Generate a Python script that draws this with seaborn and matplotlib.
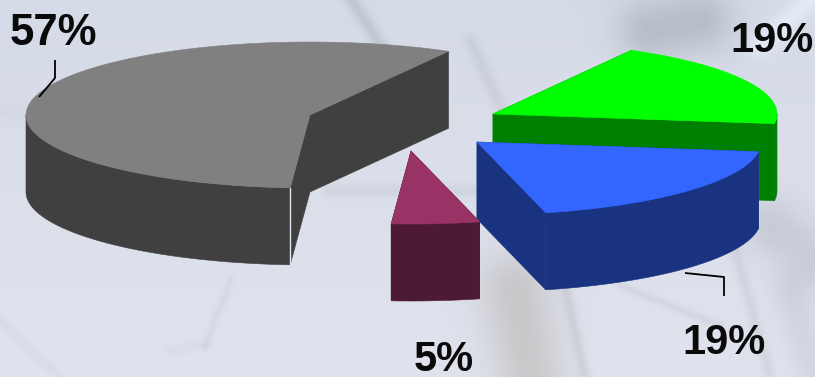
import numpy as np
import matplotlib
matplotlib.use("Agg")
import matplotlib.pyplot as plt
from matplotlib.patches import Polygon
import seaborn as sns

# Shares of the pie, in drawing order round the circle
labels = ["57%", "5%", "19%", "19%"]
shares = [57, 5, 19, 19]
top_colours = ["#808080", "#993366", "#3366FF", "#00FF00"]
side_colours = ["#404040", "#4D1A33", "#1A3380", "#008000"]

START_ANGLE = 60.8
RX, RY, DEPTH = 284.0, 73.0, 77.0
# Exploded apex of every slice on the canvas
apexes = [(310, 115), (411, 151), (477, 142), (493, 114)]
paint_order = [3, 2, 0, 1]

WIDTH, HEIGHT = 815, 377

sns.set_theme(style="white")
plt.rcParams["font.family"] = ["Liberation Sans", "DejaVu Sans"]


def backdrop():
    """Soft out-of-focus photo behind the chart, built from blurred strokes."""
    yy, xx = np.mgrid[0:HEIGHT, 0:WIDTH].astype(float)
    t = yy / HEIGHT
    img = np.dstack([213 + 11 * t, 219 + 8 * t, 231 + 6 * t])

    def stroke(x0, y0, x1, y1, sigma, amount, tint=(1, 1, 1)):
        dx, dy = x1 - x0, y1 - y0
        length2 = max(dx * dx + dy * dy, 1e-6)
        u = np.clip(((xx - x0) * dx + (yy - y0) * dy) / length2, 0, 1)
        dist2 = (xx - x0 - u * dx) ** 2 + (yy - y0 - u * dy) ** 2
        g = np.exp(-dist2 / (2 * sigma ** 2)) * amount
        for c in range(3):
            img[..., c] -= g * tint[c]

    # Upper-left diagonal strut and the blurred dark mass at the top right
    stroke(345, -10, 400, 75, 5, 20)
    stroke(650, 30, 700, 20, 24, 30)
    stroke(470, 40, 560, 240, 5, 12)
    stroke(0, 110, 60, 115, 7, 5)
    # Lighter streak beside the dark mass
    stroke(760, 45, 815, -5, 8, -14)
    # Horizontal band in the middle and the warm grey block near the bottom
    stroke(330, 190, 480, 190, 5, 10)
    stroke(515, 290, 530, 377, 26, 26, (0.8, 1.0, 1.3))
    stroke(565, 290, 585, 377, 4, 14)
    # Faint struts in the lower right
    stroke(620, 285, 720, 325, 3, 10)
    stroke(735, 250, 770, 377, 4, 12)
    stroke(770, 225, 815, 260, 22, 20)
    stroke(790, 290, 815, 377, 14, 12)
    # Faint struts in the lower left
    stroke(230, 280, 205, 345, 3, 8)
    stroke(205, 345, 170, 350, 4, 6)
    stroke(0, 320, 60, 377, 4, 6)
    return np.clip(img, 0, 255).astype(np.uint8)


def rim_points(apex, angles_deg):
    angles = np.radians(angles_deg)
    return apex[0] + RX * np.cos(angles), apex[1] - RY * np.sin(angles)


def front_span(a0, a1):
    """Part of an arc that faces the viewer, or None when it has none."""
    for turn in (0, 360):
        low, high = max(a0, 180 + turn), min(a1, 360 + turn)
        if low < high:
            return low, high
    return None


fig = plt.figure(figsize=(WIDTH / 100, HEIGHT / 100), dpi=100)
ax = fig.add_axes([0, 0, 1, 1])
ax.imshow(backdrop(), extent=(0, WIDTH, HEIGHT, 0), aspect="auto", zorder=0)
ax.set_xlim(0, WIDTH)
ax.set_ylim(HEIGHT, 0)
ax.axis("off")

bounds = START_ANGLE + np.r_[0, np.cumsum(shares)] * 3.6
for z, i in enumerate(paint_order):
    cx, cy = apexes[i]
    xs, ys = rim_points(apexes[i], np.linspace(bounds[i], bounds[i + 1], 90))
    # Side walls: the two cut faces and the front of the curved rim
    walls = [
        np.array([(cx, cy), (xs[0], ys[0]), (xs[0], ys[0] + DEPTH), (cx, cy + DEPTH)]),
        np.array([(cx, cy), (xs[-1], ys[-1]), (xs[-1], ys[-1] + DEPTH), (cx, cy + DEPTH)]),
    ]
    span = front_span(bounds[i], bounds[i + 1])
    if span is not None:
        fx, fy = rim_points(apexes[i], np.linspace(span[0], span[1], 60))
        walls.append(np.c_[np.r_[fx, fx[::-1]], np.r_[fy, fy[::-1] + DEPTH]])
    for wall in walls:
        ax.add_patch(Polygon(wall, closed=True, facecolor=side_colours[i],
                             edgecolor=side_colours[i], lw=0.4, zorder=2 + z))
    ax.fill(np.r_[cx, xs], np.r_[cy, ys], color=top_colours[i], lw=0.4,
            zorder=2 + z + 0.5)
    if i == 0:
        # Pale seam where the rim meets the cut face of the big slice
        ax.plot([xs[-1], xs[-1]], [ys[-1], ys[-1] + DEPTH], color="#dfe5ee",
                lw=1.0, zorder=2 + z + 0.6)

# Leader lines and percentage labels
leader_style = dict(color="black", lw=1.3, zorder=8, solid_capstyle="butt")
ax.plot([55, 55, 39], [60, 78, 97], **leader_style)
ax.plot([685, 724, 724], [273, 277, 296], **leader_style)

text_style = dict(fontweight="bold", color="#0a0a0a", zorder=9, ha="left",
                  va="baseline")
ax.text(10, 45, labels[0], fontsize=31.5, **text_style)
ax.text(414, 371, labels[1], fontsize=30, **text_style)
ax.text(682, 354, labels[2], fontsize=30, **text_style)
ax.text(730, 52, labels[3], fontsize=30, **text_style)

fig.savefig("out.png", dpi=100)
